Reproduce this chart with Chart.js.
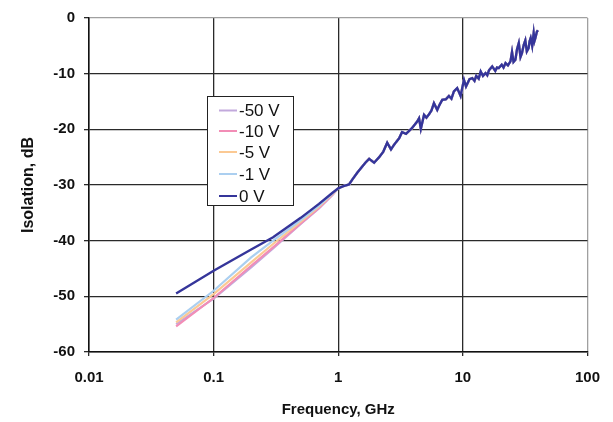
<!DOCTYPE html>
<html>
<head>
<meta charset="utf-8">
<script src="https://cdn.jsdelivr.net/npm/chart.js@4"></script>
<style>
  body { margin: 0; background: #fff; }
  #isoChart { display: block; }
</style>
</head>
<body>
<canvas id="isoChart" width="613" height="422"></canvas>
<script>
// series names, in legend order
const seriesNames = ['-50 V', '-10 V', '-5 V', '-1 V', '0 V'];
const seriesColors = ['#c2a9dc', '#f28db6', '#fbc993', '#abcff0', '#35359a'];

const xTicks = [0.01, 0.1, 1, 10, 100];
const yTicks = [0, -10, -20, -30, -40, -50, -60];

// low frequency part, GHz (curves separate here)
const freqLow = [0.05, 0.1, 0.2, 0.3, 0.5, 0.7, 0.9];
const minus50Low = [-55.0, -50.4, -44.8, -41.4, -37.0, -34.2, -31.8];
const minus10Low = [-55.4, -50.3, -44.5, -41.2, -36.9, -34.1, -31.7];
const minus5Low  = [-54.7, -49.6, -43.9, -40.6, -36.6, -33.9, -31.6];
const minus1Low  = [-54.2, -49.0, -43.0, -40.0, -36.3, -33.7, -31.5];
const zeroLow    = [-49.5, -45.4, -41.6, -39.4, -35.9, -33.4, -31.4];

// high frequency part, GHz (all curves lie on top of each other)
const freqHigh = [1.0, 1.1, 1.22, 1.3, 1.42, 1.53, 1.65, 1.77, 1.94, 2.13, 2.3, 2.47, 2.65, 2.8, 2.91,
  3.08, 3.25, 3.5, 3.9, 4.3, 4.45, 4.6, 4.88, 5.1, 5.35, 5.6, 5.86, 6.23, 6.5, 6.83, 7.3, 7.73, 8.1, 8.47, 9.0, 9.3, 9.59,
  10.2, 10.6, 11.3, 11.9, 12.4, 12.8, 13.4, 13.9, 14.5, 15.2, 15.7, 16.2, 17.2, 18.2, 18.8, 19.4, 20.5, 21.2, 22.0, 23.0, 24.1,
  24.8, 25.5, 26.4, 27.2, 28.1, 29.0, 29.8, 30.8, 31.7, 32.6, 33.7, 34.3, 35.0, 36.0, 37.0, 37.6, 38.2, 39.2, 40.0];
const isoHigh = [-30.6, -30.2, -29.9, -29.0, -27.8, -26.9, -26.0, -25.3, -26.0, -25.0, -24.0, -22.4, -23.6, -22.8, -22.3,
  -21.6, -20.5, -20.8, -19.8, -18.6, -18.0, -19.9, -17.4, -17.9, -17.3, -16.6, -15.3, -16.5, -15.6, -14.7, -14.6, -14.0, -14.5, -13.2, -12.6, -13.3, -14.0,
  -11.1, -12.3, -11.0, -10.8, -11.3, -10.4, -10.9, -9.6, -10.4, -9.9, -10.3, -9.4, -8.7, -9.5, -8.9, -9.0, -8.4, -8.9, -8.1, -8.5, -7.8,
  -6.1, -7.9, -7.5, -5.6, -4.5, -7.0, -6.3, -4.8, -4.0, -6.0, -5.4, -4.2, -3.6, -5.0, -2.7, -4.1, -3.6, -2.5, -2.2];

const lowValues = [minus50Low, minus10Low, minus5Low, minus1Low, zeroLow];

function toPoints(low) {
  const pts = [];
  freqLow.forEach((f, i) => pts.push({x: f, y: low[i]}));
  freqHigh.forEach((f, i) => pts.push({x: f, y: isoHigh[i]}));
  return pts;
}

const FONT = "'Liberation Sans', Arial, sans-serif";

const datasets = seriesNames.map((name, i) => ({
  label: name,
  data: toPoints(lowValues[i]),
  borderColor: seriesColors[i],
  borderWidth: i === 4 ? 2.4 : 2.2,
  pointRadius: 0,
  tension: 0,
  order: i === 4 ? 0 : 5 - i
}));

// legend box drawn inside the plot
const boxLegend = {
  id: 'boxLegend',
  afterDraw(chart) {
    const ctx = chart.ctx;
    ctx.save();
    ctx.fillStyle = '#fff';
    ctx.fillRect(207, 96, 86, 109);
    ctx.strokeStyle = '#222';
    ctx.lineWidth = 1;
    ctx.strokeRect(207.5, 96.5, 86, 109);
    const rows = [110.5, 131, 152, 174, 196];
    ctx.font = '17px ' + FONT;
    ctx.textBaseline = 'middle';
    ctx.fillStyle = '#111';
    seriesNames.forEach((name, i) => {
      ctx.strokeStyle = seriesColors[i];
      ctx.lineWidth = 2;
      ctx.beginPath();
      ctx.moveTo(219, rows[i]);
      ctx.lineTo(237, rows[i]);
      ctx.stroke();
      ctx.fillText(name, 239, rows[i] + 1);
    });
    ctx.restore();
  }
};

new Chart(document.getElementById('isoChart'), {
  type: 'line',
  data: { datasets: datasets },
  options: {
    responsive: false,
    animation: false,
    layout: { padding: { top: 18, right: 25, left: 0, bottom: 0 } },
    plugins: { legend: { display: false }, tooltip: { enabled: false } },
    scales: {
      x: {
        type: 'logarithmic',
        min: 0.01,
        max: 100,
        afterBuildTicks(scale) { scale.ticks = xTicks.map(v => ({value: v})); },
        afterFit(scale) { scale.height = 70; },
        ticks: {
          color: '#111',
          font: { family: FONT, size: 15, weight: 'bold' },
          padding: 13,
          maxRotation: 0,
          callback: v => String(v)
        },
        grid: {
          color: ctx => (ctx.tick && ctx.tick.value === 100) ? '#a0a0a0' : '#2a2a2a',
          lineWidth: 1.3,
          tickLength: 4,
          tickColor: '#2a2a2a'
        },
        border: { color: '#111', width: 1.5 },
        title: {
          display: true,
          text: 'Frequency, GHz',
          color: '#111',
          font: { family: FONT, size: 15, weight: 'bold' },
          padding: { top: 0, bottom: 3 }
        }
      },
      y: {
        min: -60,
        max: 0,
        afterBuildTicks(scale) { scale.ticks = yTicks.map(v => ({value: v})); },
        afterFit(scale) { scale.width = 89; },
        ticks: {
          color: '#111',
          font: { family: FONT, size: 15, weight: 'bold' },
          padding: 9,
          callback: v => String(v)
        },
        grid: {
          color: ctx => (ctx.tick && ctx.tick.value === 0) ? '#a0a0a0' : '#2a2a2a',
          lineWidth: 1.3,
          tickLength: 5,
          tickColor: '#2a2a2a'
        },
        border: { color: '#111', width: 1.5 },
        title: {
          display: true,
          text: 'Isolation, dB',
          color: '#111',
          font: { family: FONT, size: 16, weight: 'bold' },
          padding: { top: 19, bottom: 0 }
        }
      }
    }
  },
  plugins: [boxLegend]
});
</script>
</body>
</html>
